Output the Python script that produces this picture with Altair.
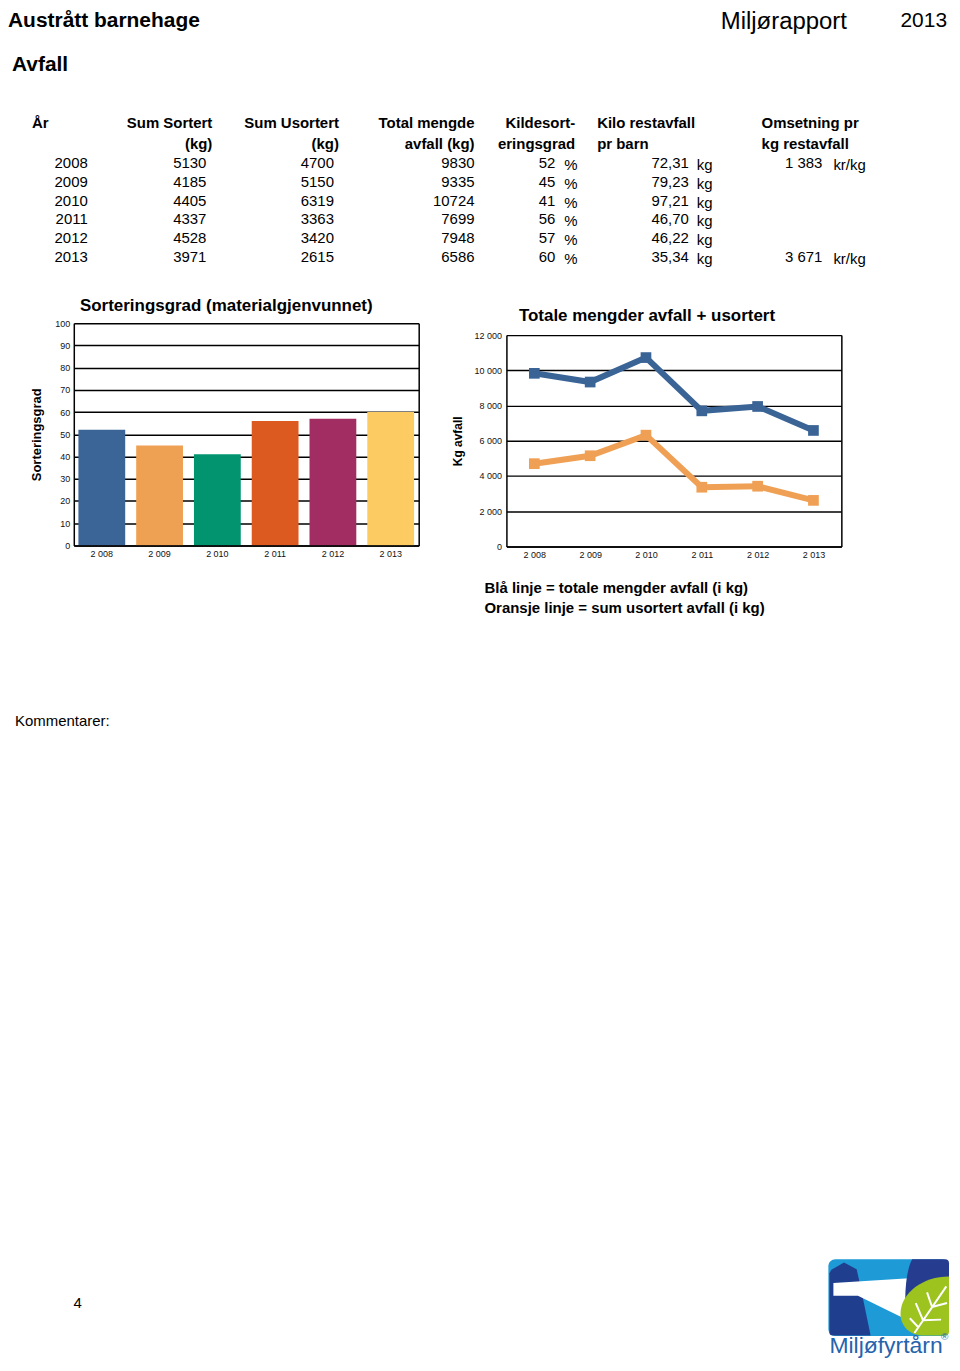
import re
import altair as alt
import pandas as pd

# ---------------- data ----------------
years = [2008, 2009, 2010, 2011, 2012, 2013]
sum_sortert = [5130, 4185, 4405, 4337, 4528, 3971]
sum_usortert = [4700, 5150, 6319, 3363, 3420, 2615]
total_mengde = [9830, 9335, 10724, 7699, 7948, 6586]
kildesortering = [52, 45, 41, 56, 57, 60]
kilo_rest_pr_barn = ["72,31", "79,23", "97,21", "46,70", "46,22", "35,34"]
omsetning = ["1 383", "", "", "", "", "3 671"]

bar_colors = ["#3B6497", "#EFA153", "#01946F", "#DC5A20", "#A22D62", "#FCCC63"]
bar_ticks = [0, 10, 20, 30, 40, 50, 60, 70, 80, 90, 100]
kg_ticks = [0, 2000, 4000, 6000, 8000, 10000, 12000]
line_series = ["Totale mengder avfall", "Sum usortert avfall"]
line_colors = ["#3A6496", "#EFA054"]

FONT = "Liberation Sans"
W, H = 944, 1352
ONE = pd.DataFrame({"k": [0]})


def label(s, x, y, size=15, bold=False, align="left", baseline="middle",
          color="#000000", angle=0):
    return alt.Chart(ONE).mark_text(
        text=s, align=align, baseline=baseline, font=FONT, fontSize=size,
        fontWeight="bold" if bold else "normal", color=color, angle=angle,
    ).encode(x=alt.value(x), y=alt.value(y))


# ---------------- header + table ----------------
tab = pd.DataFrame({
    "row": [str(y) for y in years],
    "sortert": [str(v) for v in sum_sortert],
    "usortert": [str(v) for v in sum_usortert],
    "total": [str(v) for v in total_mengde],
    "grad": [str(v) for v in kildesortering],
    "kilo": kilo_rest_pr_barn,
    "oms": omsetning,
})
ROW = alt.Y("row:O", sort=None,
            scale=alt.Scale(type="point", range=[153, 248], padding=0), axis=None)


def col(field, x, align="right"):
    return alt.Chart(tab).mark_text(
        align=align, baseline="middle", font=FONT, fontSize=15, color="black"
    ).encode(x=alt.value(x), y=ROW, text=f"{field}:N")


def unit(s, x, filt=None):
    c = alt.Chart(tab)
    if filt:
        c = c.transform_filter(filt)
    return c.mark_text(text=s, align="left", baseline="middle", font=FONT,
                       fontSize=15, color="black", dy=2).encode(x=alt.value(x), y=ROW)


header_layers = [
    label("Austrått barnehage", 0, 17, size=21, bold=True, baseline="alphabetic"),
    label("Miljørapport", 715, 19, size=24, baseline="alphabetic"),
    label("2013", 942, 17, size=21, align="right", baseline="alphabetic"),
    label("Avfall", 4, 61, size=21, bold=True, baseline="alphabetic"),
    label("År", 24, 113, bold=True),
    label("Sum Sortert", 205, 113, bold=True, align="right"),
    label("(kg)", 205, 134, bold=True, align="right"),
    label("Sum Usortert", 332, 113, bold=True, align="right"),
    label("(kg)", 332, 134, bold=True, align="right"),
    label("Total mengde", 468, 113, bold=True, align="right"),
    label("avfall (kg)", 468, 134, bold=True, align="right"),
    label("Kildesort-", 569, 113, bold=True, align="right"),
    label("eringsgrad", 569, 134, bold=True, align="right"),
    label("Kilo restavfall", 591, 113, bold=True),
    label("pr barn", 591, 134, bold=True),
    label("Omsetning pr", 756, 113, bold=True),
    label("kg restavfall", 756, 134, bold=True),
    col("row", 80),
    col("sortert", 199),
    col("usortert", 327),
    col("total", 468),
    col("grad", 549),
    unit("%", 558),
    col("kilo", 683),
    unit("kg", 691),
    col("oms", 817),
    unit("kr/kg", 828, filt="datum.oms != ''"),
]

# ---------------- bar chart (plot box x 66..412, y 314..537) ----------------
BX0, BX1, BY0, BY1 = 66, 412, 314, 537
year_label = "slice(datum.label, 0, 1) + ' ' + slice(datum.label, 1)"
bar_df = pd.DataFrame({
    "year": [str(y) for y in years],
    "grad": kildesortering,
    "farge": bar_colors,
})
bar_y_scale = alt.Scale(domain=[0, 100], nice=False, range=[BY1, BY0])
bars = alt.Chart(bar_df).mark_bar().encode(
    x=alt.X("year:N", sort=None,
            scale=alt.Scale(paddingInner=0.19, paddingOuter=0.08, range=[BX0, BX1]),
            axis=alt.Axis(orient="bottom", offset=-(H - BY1), title=None, labelAngle=0,
                          labelExpr=year_label, ticks=False, domain=True,
                          domainColor="black", domainWidth=1.5, grid=False,
                          labelFont=FONT, labelFontSize=9, labelColor="#111111",
                          labelPadding=4, zindex=1)),
    y=alt.Y("grad:Q", scale=bar_y_scale,
            axis=alt.Axis(orient="left", offset=-BX0, values=bar_ticks, grid=True,
                          gridColor="black", gridWidth=1.5, gridOpacity=1, ticks=False,
                          domain=True, domainColor="black", domainWidth=1.5,
                          labelFont=FONT, labelFontSize=9, labelColor="#111111",
                          labelPadding=4, title="Sorteringsgrad", titleFont=FONT,
                          titleFontSize=13, titleFontWeight="bold", titleColor="black",
                          titlePadding=11)),
    color=alt.Color("farge:N", scale=None),
)
bar_right = alt.Chart(bar_df).mark_point(opacity=0).encode(
    x=alt.value(BX1),
    y=alt.Y("grad:Q", scale=bar_y_scale,
            axis=alt.Axis(orient="right", offset=-(W - BX1), labels=False, ticks=False,
                          grid=False, domain=True, domainColor="black", domainWidth=1.5,
                          title=None)),
)
bar_title = label("Sorteringsgrad (materialgjenvunnet)", 219, 297, size=17, bold=True,
                  align="center")

# ---------------- line chart (plot box x 500..836, y 326..538) ----------------
LX0, LX1, LY0, LY1 = 500, 836, 326, 538
line_df = pd.DataFrame({
    "year": [str(y) for y in years] * 2,
    "kg": total_mengde + sum_usortert,
    "serie": [line_series[0]] * len(years) + [line_series[1]] * len(years),
})
line_y_scale = alt.Scale(domain=[0, 12000], nice=False, range=[LY1, LY0])
xl = alt.X("year:N", sort=None,
           scale=alt.Scale(type="point", padding=0.5, range=[LX0, LX1]),
           axis=alt.Axis(orient="bottom", offset=-(H - LY1), title=None, labelAngle=0,
                         labelExpr=year_label, ticks=False, domain=True,
                         domainColor="black", domainWidth=1.5, grid=False,
                         labelFont=FONT, labelFontSize=9, labelColor="#111111",
                         labelPadding=4))
yl = alt.Y("kg:Q", scale=line_y_scale,
           axis=alt.Axis(orient="left", offset=-LX0, values=kg_ticks,
                         labelExpr="replace(format(datum.value, ','), ',', ' ')",
                         grid=True, gridColor="black", gridWidth=1.4, gridOpacity=1,
                         ticks=False, domain=True, domainColor="black", domainWidth=1.5,
                         labelFont=FONT, labelFontSize=9, labelColor="#111111",
                         labelPadding=5, title="Kg avfall", titleFont=FONT,
                         titleFontSize=12, titleFontWeight="bold", titleColor="black",
                         titlePadding=10))
yl_plain = alt.Y("kg:Q", scale=line_y_scale, axis=None)
xl_plain = alt.X("year:N", sort=None,
                 scale=alt.Scale(type="point", padding=0.5, range=[LX0, LX1]), axis=None)
lc = alt.Color("serie:N", scale=alt.Scale(domain=line_series, range=line_colors),
               legend=None)
lines = alt.Chart(line_df).mark_line(strokeWidth=6).encode(x=xl, y=yl, color=lc)
pts = alt.Chart(line_df).mark_square(size=115, opacity=1).encode(
    x=xl_plain, y=yl_plain, color=lc)
line_right = alt.Chart(line_df).mark_point(opacity=0).encode(
    x=alt.value(LX1),
    y=alt.Y("kg:Q", scale=line_y_scale,
            axis=alt.Axis(orient="right", offset=-(W - LX1), labels=False, ticks=False,
                          grid=False, domain=True, domainColor="black", domainWidth=1.5,
                          title=None)),
)
line_title = label("Totale mengder avfall + usortert", 641, 307, size=17, bold=True,
                   align="center")

# ---------------- notes, comments, page number, logo ----------------
def to_unit(path_zoom):
    tokens = re.findall(r"[MLQCZ]|-?\d+\.?\d*", path_zoom)
    out, k = [], 0
    for t in tokens:
        if t.isalpha():
            out.append(t)
            k = 0
        else:
            v = float(t)
            val = (v / 3 - 71.5) / 60.5 if k % 2 == 0 else (v / 3 - 44.5) / 60.5
            out.append(f"{val:.3f}")
            k += 1
    return " ".join(out)


LOGO_X, LOGO_Y, LOGO_SIZE = 883.5, 1291.5, 121 ** 2


def logo_piece(path, color, filled=True, sw=0):
    return alt.Chart(ONE).mark_point(
        shape=to_unit(path), filled=filled, size=LOGO_SIZE, color=color,
        opacity=1, strokeWidth=sw,
    ).encode(x=alt.value(LOGO_X), y=alt.value(LOGO_Y))


logo_bg = alt.Chart(ONE).mark_rect(color="#1E9BD7", cornerRadius=7).encode(
    x=alt.value(823), x2=alt.value(944), y=alt.value(1253), y2=alt.value(1330))
tower = logo_piece("M 42 50 L 80 28 L 118 48 L 128 92 L 160 248 L 46 248 Q 36 248 36 238 L 36 60 Z",
                   "#1F3F8E")
beam = logo_piece("M 48 90 L 300 74 L 350 240 L 122 128 L 48 128 Z", "#FFFFFF")
navy = logo_piece("M 285 18 L 384 18 Q 396 18 396 30 L 396 175 L 265 175 C 262 110 268 50 285 18 Z",
                  "#263D8F")
leaf = logo_piece("M 396 70 C 318 70 252 118 250 180 C 249 225 285 248 320 248 L 384 248 Q 396 248 396 236 Z",
                  "#9DC31F")
veins = logo_piece("M 292 240 L 388 100 M 318 202 L 296 150 M 318 202 L 372 200 "
                   "M 345 162 L 330 118 M 345 162 L 390 150 M 303 222 L 278 196",
                   "#FFFFFF", filled=False, sw=2)

bottom_layers = [
    label("Blå linje = totale mengder avfall (i kg)", 478, 580, bold=True),
    label("Oransje linje = sum usortert avfall (i kg)", 478, 600, bold=True),
    label("Kommentarer:", 7, 713),
    label("4", 70, 1297, align="center"),
    logo_bg, tower, beam, navy, leaf, veins,
    label("Miljøfyrtårn", 824, 1347, size=23, baseline="alphabetic", color="#2563AD"),
    label("®", 936, 1334, size=10, baseline="alphabetic", color="#2563AD"),
]

chart = alt.layer(
    *header_layers,
    bars, bar_right, bar_title,
    lines, pts, line_right, line_title,
    *bottom_layers,
).resolve_scale(
    x="independent", y="independent", color="independent"
).resolve_axis(
    x="independent", y="independent"
).properties(
    width=W, height=H, padding=0
).configure(font=FONT).configure_view(strokeWidth=0)

chart.save("out.html", embed_options={"renderer": "svg", "actions": False})
